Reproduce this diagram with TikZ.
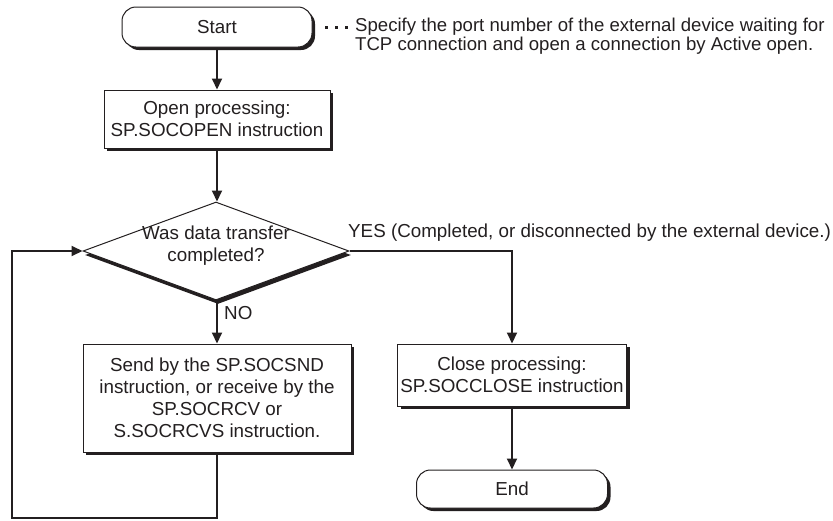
\documentclass[tikz,border=0pt]{standalone}
\usepackage{fontspec}
\setmainfont{Liberation Sans}
\usetikzlibrary{arrows.meta,shapes.geometric,shadows}
\definecolor{ink}{HTML}{231F20}
\begin{document}
\begin{tikzpicture}[x=1pt,y=-1pt,
  font=\fontsize{18.8}{22}\selectfont, text=ink,
  shad/.style={drop shadow={shadow xshift=3pt,shadow yshift=-3pt,fill=ink,opacity=1}},
  proc/.style={draw=ink,line width=1pt,fill=white,shad,align=center,inner sep=0pt},
  term/.style={proc,rounded corners=14pt},
  conn/.style={draw=ink,line width=2pt},
  arr/.style={conn,-{Triangle[length=11pt,width=10pt]}},
  dotline/.style={draw=ink,line width=3pt,dash pattern=on 3pt off 7pt},
]
\useasboundingbox (0,0) rectangle (833,520);

\node[term,minimum width=190pt,minimum height=40pt] (start) at (217,27) {Start};
\node[proc,minimum width=226pt,minimum height=58pt] (open) at (217,119) {Open processing:\\SP.SOCOPEN instruction};
\node[diamond,draw=ink,line width=1pt,fill=white,minimum width=266pt,minimum height=98pt,inner sep=0pt,
      drop shadow={shadow xshift=2pt,shadow yshift=-4pt,fill=ink,opacity=1}] (q) at (216,251) {};
\node[align=center] (qt) at (216,246) {Was data transfer\\completed?};
\node[proc,minimum width=268pt,minimum height=108pt] (send) at (217,398) {Send by the SP.SOCSND\\instruction, or receive by the\\SP.SOCRCV or\\S.SOCRCVS instruction.};
\node[proc,minimum width=229pt,minimum height=62pt] (close) at (512,375) {Close processing:\\SP.SOCCLOSE instruction};
\node[term,minimum width=191pt,minimum height=38pt] (end) at (512,489) {End};

\node[anchor=west,align=left,inner sep=0pt,font=\fontsize{18.6}{19.5}\selectfont] (note) at (355,36) {Specify the port number of the external device waiting for\\TCP connection and open a connection by Active open.};
\node[anchor=west,inner sep=0pt] (yes) at (348,233) {YES (Completed, or disconnected by the external device.)};
\node[anchor=west,inner sep=0pt] (no) at (224,313) {NO};

\coordinate (d0) at (325,27);
\coordinate (d1) at (351,27);
\draw[dotline] (d0) -- (d1);

\draw[arr] (start.south) -- (open.north);
\draw[arr] (open.south) -- (open.south |- q.north);
\draw[arr] (open.south |- q.south) -- (send.north);
\draw[arr] (q.east) -| (close.north);
\draw[arr] (close.south) -- (end.north);
\coordinate (c1) at (217,518);
\coordinate (c2) at (12,518);
\draw[arr] (send.south) -- (c1) -- (c2) |- (q.west);
\end{tikzpicture}
\end{document}
